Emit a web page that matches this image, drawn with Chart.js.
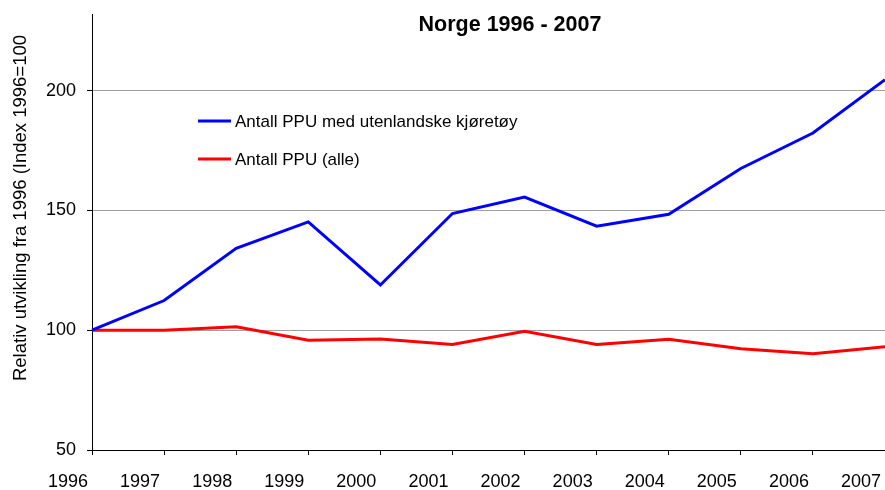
<!DOCTYPE html>
<html>
<head>
<meta charset="utf-8">
<script src="https://cdn.jsdelivr.net/npm/chart.js@4.4.0/dist/chart.umd.min.js"></script>
<style>
  html, body { margin: 0; padding: 0; background: #fff; }
  #wrap { width: 885px; height: 490px; }
</style>
</head>
<body>
<div id="wrap"><canvas id="chart" width="885" height="490"></canvas></div>
<script>
const years = ['1996', '1997', '1998', '1999', '2000', '2001', '2002', '2003', '2004', '2005', '2006', '2007'];
const foreignVehicles = [100, 112.4, 134.2, 145.2, 118.9, 148.7, 155.6, 143.4, 148.4, 167.5, 182.3, 204.6];
const allPpu = [100, 100, 101.4, 95.8, 96.3, 94.0, 99.6, 94.0, 96.2, 92.3, 90.2, 93.1];
const seriesNames = ['Antall PPU med utenlandske kjøretøy', 'Antall PPU (alle)'];
const yTicks = [50, 100, 150, 200];

const chartTitle = 'Norge 1996 - 2007';
const yTitle = 'Relativ utvikling fra 1996 (Index 1996=100';
const fontFamily = '"Liberation Sans", Arial, sans-serif';

// title, rotated axis title and legend inside the plot
const extras = {
  id: 'extras',
  afterDraw(chart) {
    const c = chart.ctx;
    c.save();
    c.fillStyle = '#000';
    c.font = 'bold 21.5px ' + fontFamily;
    c.textAlign = 'center';
    c.textBaseline = 'alphabetic';
    c.fillText(chartTitle, 510, 31);

    c.save();
    c.translate(26, 208);
    c.rotate(-Math.PI / 2);
    c.font = '18.5px ' + fontFamily;
    c.textBaseline = 'alphabetic';
    c.fillText(yTitle, 0, 0);
    c.restore();

    c.font = '17px ' + fontFamily;
    c.textAlign = 'left';
    c.textBaseline = 'middle';
    chart.data.datasets.forEach((ds, i) => {
      const y = 121 + i * 38;
      c.strokeStyle = ds.borderColor;
      c.lineWidth = 3;
      c.beginPath();
      c.moveTo(198, y);
      c.lineTo(231, y);
      c.stroke();
      c.fillText(ds.label, 235, y + 1);
    });
    c.restore();
  }
};

new Chart(document.getElementById('chart'), {
  type: 'line',
  data: {
    labels: years,
    datasets: [
      { label: seriesNames[0], data: foreignVehicles, borderColor: '#0000ff', borderWidth: 3, pointRadius: 0, tension: 0 },
      { label: seriesNames[1], data: allPpu, borderColor: '#ff0000', borderWidth: 3, pointRadius: 0, tension: 0 }
    ]
  },
  options: {
    responsive: false,
    animation: false,
    layout: { padding: { left: 0, right: 0, top: 14, bottom: 0 } },
    plugins: { legend: { display: false }, title: { display: false }, tooltip: { enabled: false } },
    scales: {
      x: {
        offset: false,
        grid: { drawOnChartArea: false, tickLength: 5, tickColor: '#000' },
        border: { color: '#000', width: 1 },
        ticks: {
          color: '#000',
          font: { family: fontFamily, size: 18 },
          autoSkip: false,
          maxRotation: 0,
          labelOffset: -24,
          padding: 16
        },
        afterFit(scale) {
          scale.height = 40;
          scale.paddingLeft = 0;
          scale.paddingRight = 0;
        }
      },
      y: {
        min: 50,
        max: 232,
        grid: {
          color: ctx => (ctx.tick && ctx.tick.value === 50) ? 'rgba(0,0,0,0)' : '#a0a0a0',
          tickLength: 5,
          tickColor: '#000'
        },
        border: { color: '#000', width: 1 },
        afterBuildTicks(scale) {
          scale.ticks = yTicks.map(v => ({ value: v }));
        },
        ticks: {
          color: '#000',
          font: { family: fontFamily, size: 18 },
          padding: 11
        },
        afterFit(scale) {
          scale.width = 92;
          scale.paddingTop = 0;
          scale.paddingBottom = 0;
        }
      }
    }
  },
  plugins: [extras]
});
</script>
</body>
</html>
